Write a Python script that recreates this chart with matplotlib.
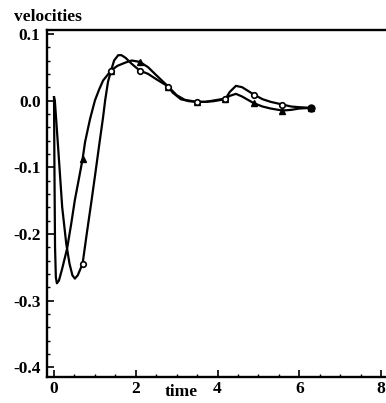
import numpy as np
import matplotlib
matplotlib.use("Agg")
import matplotlib.pyplot as plt
from matplotlib.ticker import MultipleLocator

# velocity traces
t_a = [0.0, 0.01, 0.025, 0.045, 0.07, 0.12, 0.2, 0.32, 0.42, 0.51, 0.6, 0.698,
       0.76, 0.88, 1.0, 1.1, 1.2, 1.396, 1.55, 1.75, 1.9, 2.094, 2.3, 2.5,
       2.793, 3.0, 3.2, 3.491, 3.7, 3.9, 4.189, 4.3, 4.45, 4.6, 4.887, 5.1,
       5.3, 5.585, 5.8, 6.0, 6.283]
v_a = [0.005, -0.10, -0.22, -0.265, -0.274, -0.27, -0.252, -0.222, -0.185, -0.149, -0.12, -0.088,
       -0.062, -0.028, 0.0, 0.016, 0.03, 0.045, 0.052, 0.057, 0.06, 0.058, 0.05, 0.038,
       0.021, 0.008, 0.001, -0.002, -0.002, 0.0, 0.003, 0.007, 0.010, 0.006, -0.004, -0.009,
       -0.012, -0.015, -0.014, -0.012, -0.011]

t_b = [0.0, 0.02, 0.1, 0.2, 0.3, 0.38, 0.45, 0.51, 0.58, 0.698, 0.8, 0.92,
       1.02, 1.12, 1.2, 1.25, 1.32, 1.396, 1.47, 1.57, 1.65, 1.75, 1.9, 2.094,
       2.3, 2.5, 2.793, 2.9, 3.1, 3.3, 3.491, 3.7, 3.9, 4.189, 4.3, 4.45,
       4.6, 4.887, 5.1, 5.3, 5.585, 5.8, 6.0, 6.283]
v_b = [0.005, 0.0, -0.07, -0.16, -0.215, -0.245, -0.262, -0.267, -0.262, -0.245, -0.2, -0.149,
       -0.105, -0.06, -0.025, 0.0, 0.028, 0.045, 0.06, 0.068, 0.068, 0.064, 0.055, 0.045,
       0.04, 0.032, 0.021, 0.012, 0.002, -0.001, -0.002, -0.002, -0.001, 0.002, 0.013, 0.022,
       0.02, 0.009, 0.002, -0.002, -0.006, -0.009, -0.010, -0.011]

# sample instants carrying markers
t_marks = [0.0, 0.698, 1.396, 2.094, 2.793, 3.491, 4.189, 4.887, 5.585, 6.283]

xticks = [0, 2, 4, 6, 8]
yticks = [0.1, 0.0, -0.1, -0.2, -0.3, -0.4]

plt.rcParams['font.family'] = ['Liberation Serif', 'DejaVu Serif']
plt.rcParams['font.weight'] = 'bold'

fig = plt.figure(figsize=(3.86, 4.03), dpi=100)
ax = fig.add_axes([0.123, 0.0645, 0.877, 0.861])

ax.plot(t_a, v_a, color='black', lw=1.6)
ax.plot(t_b, v_b, color='black', lw=1.6)

va_m = np.interp(t_marks, t_a, v_a)
vb_m = np.interp(t_marks, t_b, v_b)
ax.plot(t_marks[1:], va_m[1:], ls='none', marker='^', ms=4, color='black')
ax.plot(t_marks[1:-1], vb_m[1:-1], ls='none', marker='o', ms=4, mfc='white', mec='black', mew=1.2)
ax.plot(t_marks[-1], vb_m[-1], ls='none', marker='o', ms=5, color='black')

ax.set_xlim(-0.16, 8.12)
ax.set_ylim(-0.4145, 0.1057)

for side in ['left', 'bottom', 'top']:
    ax.spines[side].set_linewidth(1.7)
ax.spines['right'].set_visible(False)

ax.xaxis.set_major_locator(MultipleLocator(2))
ax.xaxis.set_minor_locator(MultipleLocator(0.5))
ax.yaxis.set_major_locator(MultipleLocator(0.1))
ax.yaxis.set_minor_locator(MultipleLocator(0.02))
ax.tick_params(which='major', direction='in', length=5, width=1.2, top=False, right=False, labelsize=12.5)
ax.tick_params(which='minor', direction='in', length=2.5, width=1.0, top=False, right=False)
ax.tick_params(axis='x', pad=3)
ax.tick_params(axis='y', pad=5)

ax.set_xticks(xticks)
ax.set_xticklabels([str(x) for x in xticks])
ax.set_yticks(yticks)
ax.set_yticklabels(['%.1f' % y for y in yticks])

# axis names sit inline with the tick labels, Mathematica style
ax.text(3.1, -0.4145 - 0.011, 'time', ha='center', va='top', fontsize=12.5, fontweight='bold',
        clip_on=False)
fig.text(0.036, 0.957, 'velocities', ha='left', va='center', fontsize=12.5, fontweight='bold')

fig.savefig('out.png', dpi=100)
